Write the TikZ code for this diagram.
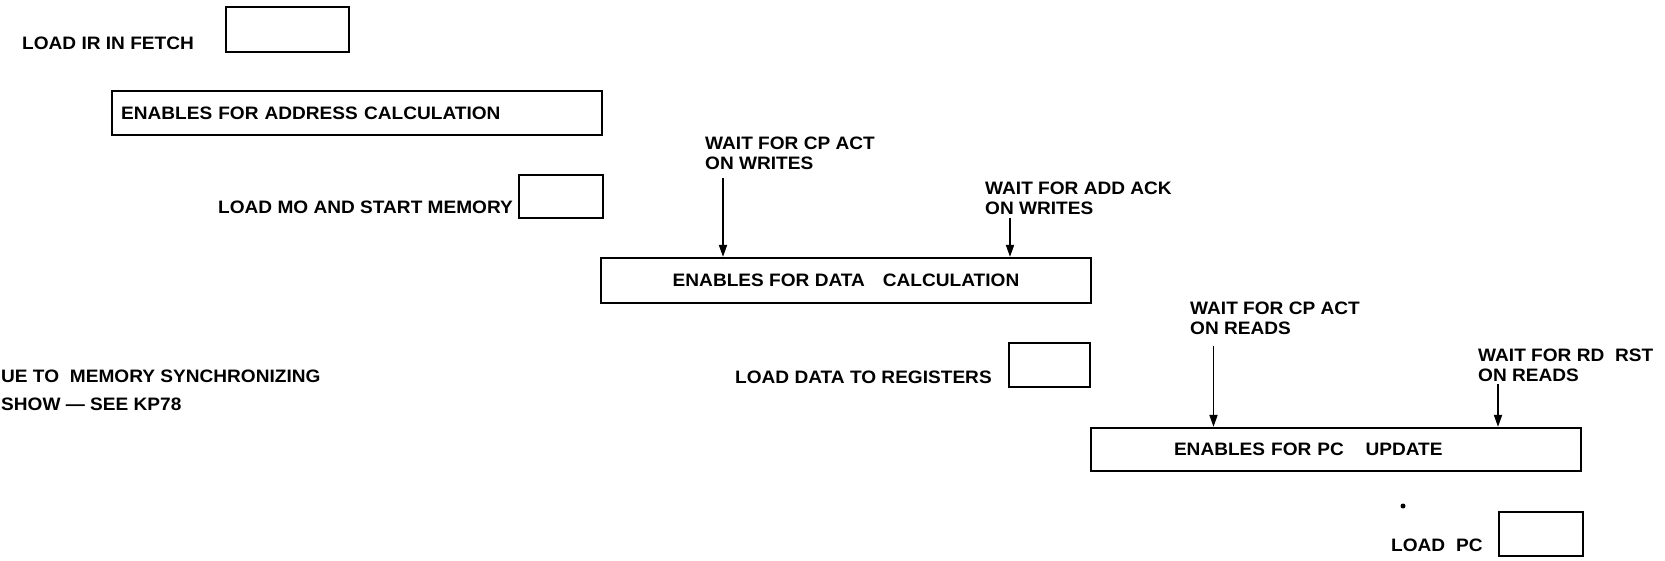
\documentclass[tikz,border=0pt]{standalone}
\usepackage{fontspec}
\setmainfont[FakeStretch=1.06]{Liberation Sans}
\usetikzlibrary{arrows.meta}
\newcommand{\wgap}{\hspace{0.6em}}

\begin{document}
\begin{tikzpicture}[
  x=1pt, y=-1pt, font=\fontsize{18}{20}\selectfont\bfseries,
  box/.style={draw, line width=2.2pt, minimum width=#1, minimum height=44pt, inner sep=0pt},
  wide/.style={draw, line width=2.2pt, minimum width=490pt, minimum height=44pt},
  lbl/.style={anchor=west, inner sep=0pt},
  note/.style={anchor=north west, align=left, inner sep=0pt},
  e/.style={-{Triangle[length=12pt,width=8pt]}, line width=1.8pt}
]
\useasboundingbox (0,0) rectangle (1665,561);

% fetch and address phase
\node[box=123pt, minimum height=45pt] (ir) at (287.5,29.5) {};
\node[lbl] (irl) at (22,43) {LOAD IR IN FETCH};
\node[wide, anchor=north west, text width=472pt, inner xsep=9pt, align=left] (adr) at (111,90)
  {ENABLES FOR ADDRESS\hspace{0.35em}CALCULATION};
\node[box=84pt, minimum height=43pt] (mo) at (561,196.5) {};
\node[lbl] (mol) at (218,207) {LOAD MO AND START MEMORY};

% data phase
\node[note] (cpw) at (705,136.5) {WAIT FOR CP ACT\\ON WRITES};
\node[note] (adw) at (985,181.5) {WAIT FOR ADD ACK\\ON WRITES};
\node[wide, minimum height=45pt, align=center] (dat) at (846,280.5)
  {ENABLES FOR DATA\hspace{1em}CALCULATION};
\coordinate (w1) at (723,178);
\coordinate (w2) at (1010,218);
\draw[e] (w1) -- (w1 |- dat.north);
\draw[e] (w2) -- (w2 |- dat.north);

\node[lbl] (n1) at (1,376.5) {UE TO\wgap MEMORY SYNCHRONIZING};
\node[lbl] (n2) at (1,404) {SHOW --- SEE KP78};
\node[box=81pt] (reg) at (1049.5,365) {};
\node[lbl] (regl) at (735,377) {LOAD DATA TO REGISTERS};

% pc update phase
\node[note] (cpr) at (1190,301.5) {WAIT FOR CP ACT\\ON READS};
\node[note] (rdr) at (1478,349) {WAIT FOR RD\wgap RST\\ON READS};
\node[wide, minimum height=43pt, text width=324pt, inner xsep=83pt, align=left] (pcu) at (1336,449.5)
  {ENABLES FOR PC\hspace{1.2em}UPDATE};
\coordinate (r1) at (1213.5,346);
\coordinate (r2) at (1498,384);
\draw[e] (r1) -- (r1 |- pcu.north);
\draw[e] (r2) -- (r2 |- pcu.north);

\node[circle, fill, inner sep=0pt, minimum size=5pt] (dot) at (1403,506) {};
\node[box=84pt] (pc) at (1541,534) {};
\node[lbl] (pcl) at (1391,545) {LOAD\wgap PC};
\end{tikzpicture}
\end{document}
